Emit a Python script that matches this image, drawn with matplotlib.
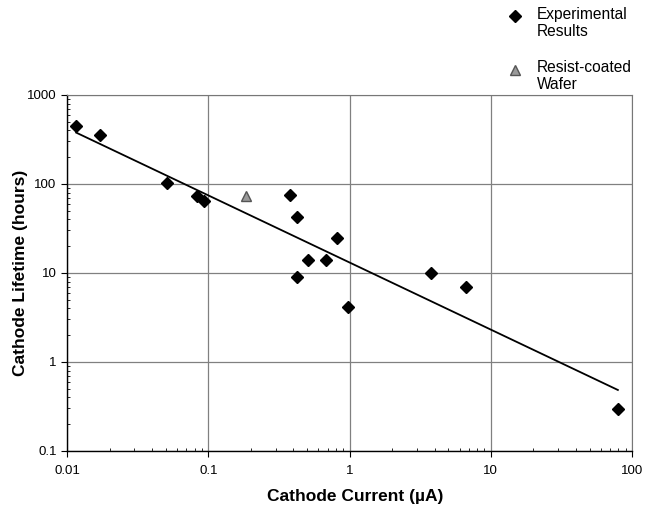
import numpy as np
import matplotlib
matplotlib.use('Agg')
import matplotlib.pyplot as plt
from matplotlib.lines import Line2D

plt.rcParams['font.family'] = ['Liberation Sans', 'DejaVu Sans']

# dados
corrente_exp = [0.0116, 0.0171, 0.0508, 0.0828, 0.0933, 0.379, 0.423, 0.811,
                0.511, 0.683, 0.423, 0.97, 3.78, 6.68, 79.3]
vida_exp = [452, 352, 102, 73, 65, 75, 43, 24.5, 14, 14, 8.95, 4.18, 9.9, 7.0, 0.296]

corrente_resist = [0.185]
vida_resist = [73]

# reta de tendência (extremos)
tend_x = [0.0116, 79.3]
tend_y = [377, 0.484]

fig = plt.figure(figsize=(6.45, 5.13), dpi=100)
ax = fig.add_axes([0.104, 0.121, 0.876, 0.694])

ax.plot(tend_x, tend_y, color='black', linewidth=1.3, zorder=3)
ax.plot(corrente_exp, vida_exp, linestyle='none', marker='D', markersize=6,
        color='black', zorder=4)
ax.plot(corrente_resist, vida_resist, linestyle='none', marker='^', markersize=7,
        markerfacecolor='#9a9a9a', markeredgecolor='#555555', zorder=4)

ax.set_xscale('log')
ax.set_yscale('log')
ax.set_xlim(0.01, 100)
ax.set_ylim(0.1, 1000)

ax.set_xticks([0.01, 0.1, 1, 10, 100])
ax.set_xticklabels(['0.01', '0.1', '1', '10', '100'])
ax.set_yticks([0.1, 1, 10, 100, 1000])
ax.set_yticklabels(['0.1', '1', '10', '100', '1000'])
ax.tick_params(axis='both', which='major', labelsize=9.5, length=4, width=0.8,
               direction='out')
ax.tick_params(axis='x', which='major', pad=6)
ax.tick_params(axis='both', which='minor', length=2.5, width=0.6, direction='in')
ax.xaxis.set_minor_formatter(matplotlib.ticker.NullFormatter())
ax.yaxis.set_minor_formatter(matplotlib.ticker.NullFormatter())

ax.grid(True, which='major', color='#808080', linewidth=0.9)
ax.set_axisbelow(True)

for lado in ['top', 'right']:
    ax.spines[lado].set_linestyle((0, (1, 1)))
    ax.spines[lado].set_color('#777777')
    ax.spines[lado].set_linewidth(0.8)
for lado in ['bottom', 'left']:
    ax.spines[lado].set_color('black')
    ax.spines[lado].set_linewidth(1.0)

ax.set_xlabel('Cathode Current (\u00b5A)', fontsize=12.5, fontweight='bold')
ax.set_ylabel('Cathode Lifetime (hours)', fontsize=12.5, fontweight='bold')
ax.xaxis.set_label_coords(0.51, -0.107)
ax.yaxis.set_label_coords(-0.069, 0.5)

# legenda manual fora do gráfico
fig.lines.append(Line2D([515 / 645], [1 - 16 / 513], transform=fig.transFigure,
                        marker='D', markersize=6, color='black', linestyle='none'))
fig.text(537 / 645, 1 - 23 / 513, 'Experimental\nResults', fontsize=11.2,
         va='center', ha='left', linespacing=1.1)
fig.lines.append(Line2D([515 / 645], [1 - 70 / 513], transform=fig.transFigure,
                        marker='^', markersize=7, markerfacecolor='#9a9a9a',
                        markeredgecolor='#555555', linestyle='none'))
fig.text(537 / 645, 1 - 76 / 513, 'Resist-coated\nWafer', fontsize=11.2,
         va='center', ha='left', linespacing=1.1)

fig.savefig('out.png', dpi=100)
